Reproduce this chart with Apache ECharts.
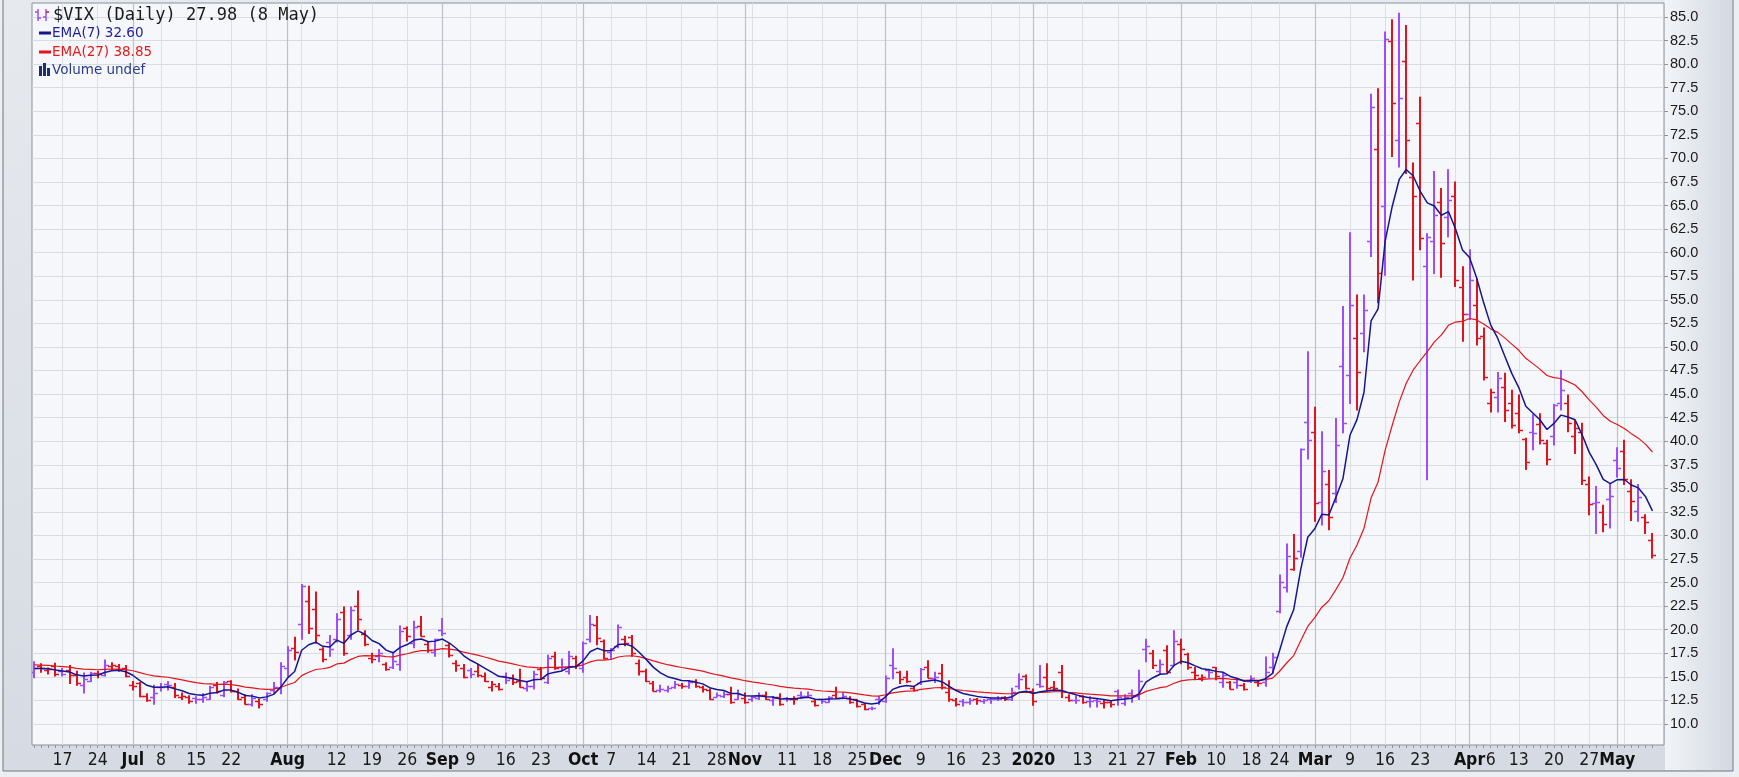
<!DOCTYPE html>
<html><head><meta charset="utf-8">
<script src="https://cdn.jsdelivr.net/npm/echarts@6/dist/echarts.min.js"></script>
<style>html,body{margin:0;padding:0;background:#eceef2;}#chart{width:1739px;height:777px;}</style>
</head><body><div id="chart"></div>
<script>
// ---- trading days ----
const dates = [
'2019-06-11','2019-06-12','2019-06-13','2019-06-14','2019-06-17','2019-06-18','2019-06-19','2019-06-20','2019-06-21','2019-06-24','2019-06-25','2019-06-26','2019-06-27','2019-06-28',
'2019-07-01','2019-07-02','2019-07-03','2019-07-05','2019-07-08','2019-07-09','2019-07-10','2019-07-11','2019-07-12','2019-07-15','2019-07-16','2019-07-17','2019-07-18','2019-07-19','2019-07-22','2019-07-23','2019-07-24','2019-07-25','2019-07-26','2019-07-29','2019-07-30','2019-07-31',
'2019-08-01','2019-08-02','2019-08-05','2019-08-06','2019-08-07','2019-08-08','2019-08-09','2019-08-12','2019-08-13','2019-08-14','2019-08-15','2019-08-16','2019-08-19','2019-08-20','2019-08-21','2019-08-22','2019-08-23','2019-08-26','2019-08-27','2019-08-28','2019-08-29','2019-08-30',
'2019-09-03','2019-09-04','2019-09-05','2019-09-06','2019-09-09','2019-09-10','2019-09-11','2019-09-12','2019-09-13','2019-09-16','2019-09-17','2019-09-18','2019-09-19','2019-09-20','2019-09-23','2019-09-24','2019-09-25','2019-09-26','2019-09-27','2019-09-30',
'2019-10-01','2019-10-02','2019-10-03','2019-10-04','2019-10-07','2019-10-08','2019-10-09','2019-10-10','2019-10-11','2019-10-14','2019-10-15','2019-10-16','2019-10-17','2019-10-18','2019-10-21','2019-10-22','2019-10-23','2019-10-24','2019-10-25','2019-10-28','2019-10-29','2019-10-30','2019-10-31',
'2019-11-01','2019-11-04','2019-11-05','2019-11-06','2019-11-07','2019-11-08','2019-11-11','2019-11-12','2019-11-13','2019-11-14','2019-11-15','2019-11-18','2019-11-19','2019-11-20','2019-11-21','2019-11-22','2019-11-25','2019-11-26','2019-11-27','2019-11-29',
'2019-12-02','2019-12-03','2019-12-04','2019-12-05','2019-12-06','2019-12-09','2019-12-10','2019-12-11','2019-12-12','2019-12-13','2019-12-16','2019-12-17','2019-12-18','2019-12-19','2019-12-20','2019-12-23','2019-12-24','2019-12-26','2019-12-27','2019-12-30','2019-12-31',
'2020-01-02','2020-01-03','2020-01-06','2020-01-07','2020-01-08','2020-01-09','2020-01-10','2020-01-13','2020-01-14','2020-01-15','2020-01-16','2020-01-17','2020-01-21','2020-01-22','2020-01-23','2020-01-24','2020-01-27','2020-01-28','2020-01-29','2020-01-30','2020-01-31',
'2020-02-03','2020-02-04','2020-02-05','2020-02-06','2020-02-07','2020-02-10','2020-02-11','2020-02-12','2020-02-13','2020-02-14','2020-02-18','2020-02-19','2020-02-20','2020-02-21','2020-02-24','2020-02-25','2020-02-26','2020-02-27','2020-02-28',
'2020-03-02','2020-03-03','2020-03-04','2020-03-05','2020-03-06','2020-03-09','2020-03-10','2020-03-11','2020-03-12','2020-03-13','2020-03-16','2020-03-17','2020-03-18','2020-03-19','2020-03-20','2020-03-23','2020-03-24','2020-03-25','2020-03-26','2020-03-27','2020-03-30','2020-03-31',
'2020-04-01','2020-04-02','2020-04-03','2020-04-06','2020-04-07','2020-04-08','2020-04-09','2020-04-13','2020-04-14','2020-04-15','2020-04-16','2020-04-17','2020-04-20','2020-04-21','2020-04-22','2020-04-23','2020-04-24','2020-04-27','2020-04-28','2020-04-29','2020-04-30',
'2020-05-01','2020-05-04','2020-05-05','2020-05-06','2020-05-07','2020-05-08'
];
// ---- $VIX daily OHLC ----
const opens = [
15.50,16.10,15.75,16.10,15.60,15.70,15.20,14.10,14.60,15.40,15.20,16.10,16.10,15.90,
14.10,14.30,13.00,12.90,13.90,14.20,13.90,12.90,12.90,12.80,12.70,12.70,14.10,13.10,14.60,13.50,12.90,12.10,12.40,12.60,13.60,13.80,
15.90,18.10,20.60,23.00,22.20,18.00,18.70,19.00,21.90,19.40,22.50,19.50,17.00,17.20,16.40,16.00,16.40,20.20,18.60,20.40,18.50,17.60,
20.00,18.40,16.50,15.90,15.70,15.60,15.10,13.90,14.00,15.10,14.90,14.60,13.80,14.00,15.80,14.50,17.20,16.00,15.60,17.00,
15.90,19.00,20.50,18.80,17.60,18.30,19.00,19.20,16.50,15.60,14.40,13.60,13.60,13.90,14.10,14.00,14.60,13.90,13.60,12.90,13.00,13.20,12.70,
12.80,12.60,12.80,13.10,12.50,12.90,12.80,12.60,13.10,13.00,12.40,12.60,12.30,13.10,12.80,12.80,12.60,12.10,11.70,12.60,
12.40,16.30,15.50,15.00,13.80,14.30,16.00,14.90,15.40,13.40,12.50,12.40,12.30,12.70,12.40,12.60,12.60,12.90,12.70,14.00,15.10,
13.50,14.20,15.00,13.90,15.50,12.90,12.50,13.00,12.40,12.50,12.20,12.30,13.50,12.20,13.30,13.00,18.00,17.50,15.60,17.90,16.30,
18.50,17.40,15.50,14.90,15.70,16.00,14.50,14.50,14.50,14.10,14.60,14.50,14.50,16.00,22.00,24.50,26.40,28.40,42.00,
41.00,33.50,35.50,34.50,48.00,47.00,51.00,51.50,61.20,71.00,65.00,82.50,72.00,80.30,68.00,73.80,58.60,61.20,65.40,63.80,66.00,56.40,
53.50,54.50,51.20,44.00,44.70,45.70,44.00,43.00,40.20,41.00,41.80,39.80,40.50,44.10,44.00,40.50,41.00,35.50,33.40,32.50,33.90,
38.00,39.00,34.70,32.60,32.00,29.50
];
const highs = [
16.60,16.40,15.95,16.45,15.90,16.20,15.60,15.40,15.50,15.60,16.80,16.50,16.30,16.20,
14.50,14.40,13.20,14.10,14.30,14.50,14.30,13.30,13.00,12.90,13.20,14.00,14.40,14.50,14.60,13.70,13.10,13.10,12.60,13.30,14.40,16.50,
18.20,19.20,24.81,24.60,24.00,18.10,19.40,21.70,22.40,22.40,24.10,19.90,17.50,17.90,16.50,17.60,20.40,20.30,20.90,21.40,18.70,19.00,
21.20,18.50,16.70,16.30,15.90,16.30,15.40,14.50,14.30,15.40,15.20,15.80,14.40,15.60,16.00,17.30,17.60,16.90,17.70,17.20,
18.70,21.50,21.40,18.90,18.00,20.50,19.30,19.40,16.80,15.80,14.50,14.10,14.00,14.50,14.30,14.60,14.70,14.00,13.70,13.30,13.40,13.90,13.60,
13.30,12.90,13.30,13.40,12.90,13.20,12.80,12.90,13.40,13.40,12.50,12.60,12.90,13.90,13.30,12.90,12.60,12.20,11.80,12.90,
15.10,17.99,15.60,15.60,14.00,15.90,16.70,15.50,16.30,14.60,12.70,12.60,12.70,12.70,12.60,12.70,12.90,12.90,13.80,15.30,15.20,
13.70,16.20,16.40,14.50,16.20,13.10,13.00,13.00,12.90,12.70,12.50,12.40,13.60,13.10,13.60,15.70,19.00,17.80,16.80,18.30,19.90,
19.00,17.50,16.00,15.20,15.80,16.00,15.40,14.50,14.80,14.30,15.10,14.60,17.10,17.50,25.80,29.10,30.10,39.16,49.48,
43.60,41.00,36.90,42.40,54.30,62.10,55.50,55.50,76.80,77.40,83.40,84.70,85.40,84.10,69.50,76.50,62.00,68.60,66.80,68.80,67.50,58.50,
60.30,57.20,52.00,45.50,47.30,47.20,45.40,44.90,40.30,42.80,42.90,40.10,43.90,47.50,44.90,42.20,41.90,36.20,35.20,33.20,35.40,
39.30,40.10,35.90,35.40,32.20,30.20
];
const lows = [
14.90,15.50,15.30,15.10,15.10,14.30,14.10,13.30,14.50,14.90,15.10,15.70,15.60,15.00,
13.60,12.90,12.40,12.10,13.50,13.60,12.80,12.60,12.20,12.20,12.30,12.60,13.30,12.90,13.40,12.60,12.10,11.90,11.70,12.40,13.30,13.20,
15.00,16.80,19.00,19.60,18.60,16.60,17.20,18.70,17.30,19.00,20.00,18.30,16.50,16.60,15.70,15.90,15.70,18.80,18.10,19.30,17.60,17.20,
19.40,17.10,15.60,14.90,14.90,15.00,14.50,13.50,13.60,14.30,14.20,13.90,13.50,13.70,14.70,14.30,15.80,15.70,15.30,15.90,
15.50,18.70,18.40,16.90,16.90,18.10,18.30,17.20,15.20,14.50,13.50,13.40,13.40,13.80,13.80,13.80,13.90,13.40,12.60,12.90,12.80,12.20,12.60,
12.20,12.40,12.60,12.60,12.00,12.00,12.40,12.10,12.70,12.80,11.90,12.20,12.30,12.70,12.70,12.20,11.80,11.50,11.50,12.10,
12.30,14.80,14.30,14.40,13.50,14.20,14.90,14.40,13.70,12.40,11.90,11.90,12.10,12.10,12.20,12.20,12.50,12.50,12.50,13.70,13.70,
12.00,13.90,13.50,13.50,12.80,12.40,12.20,12.20,11.80,11.80,11.70,11.80,12.00,12.00,12.30,12.60,16.60,15.90,15.30,15.50,16.20,
16.40,15.80,14.70,14.60,14.90,14.70,13.90,13.70,13.80,13.60,14.40,14.00,14.00,15.40,21.80,24.00,26.30,27.70,38.10,
31.50,31.10,30.60,33.50,40.90,44.00,43.30,49.50,59.60,54.70,57.60,70.20,69.10,68.40,57.10,60.30,35.90,57.80,57.40,61.70,56.40,50.60,
52.90,50.20,46.50,43.10,43.10,42.10,41.40,40.90,37.00,39.10,39.70,37.50,39.60,43.30,41.00,38.70,35.40,32.20,30.20,30.40,30.80,
36.20,35.40,31.60,31.50,30.20,27.60
];
const closes = [
15.99,15.91,15.82,15.28,15.35,15.15,14.33,14.75,15.40,15.26,16.28,16.21,15.82,15.08,
14.06,12.93,12.57,13.28,13.96,14.09,13.03,12.93,12.39,12.68,12.86,13.97,13.53,14.45,13.53,12.61,12.07,12.74,12.16,13.24,13.94,16.12,
17.87,17.61,24.59,20.17,19.49,16.91,17.97,21.09,17.52,22.10,21.18,18.47,16.88,17.50,15.80,16.68,19.87,19.32,20.31,19.35,17.88,18.98,
19.66,17.33,16.27,15.00,15.27,15.20,14.61,14.22,13.74,14.67,14.44,13.95,14.05,15.32,14.91,17.05,15.96,16.07,17.22,16.24,
18.56,20.56,19.12,17.04,17.86,20.28,18.64,17.57,15.58,14.57,13.54,13.68,13.79,14.25,14.00,14.46,14.01,13.71,12.65,13.11,13.20,12.33,13.22,
12.30,12.83,13.10,12.62,12.73,12.07,12.69,12.68,13.00,13.05,12.05,12.46,12.86,12.78,12.98,12.34,11.87,11.54,11.75,12.62,
14.91,15.96,14.80,14.52,13.62,15.86,14.91,14.99,13.94,12.63,12.14,12.29,12.58,12.50,12.51,12.61,12.67,12.65,13.43,14.82,13.78,
12.47,14.02,13.85,13.79,13.45,12.54,12.56,12.32,12.39,12.42,12.32,12.10,12.85,12.91,12.98,14.56,18.23,16.28,16.39,15.49,18.84,
17.97,16.05,15.15,14.96,15.47,15.04,15.18,13.74,14.15,13.68,14.83,14.38,15.56,17.08,25.03,27.85,27.56,39.16,40.11,
33.42,36.82,31.99,39.62,41.94,54.46,47.30,53.90,75.47,57.83,82.69,75.91,76.45,72.00,66.04,61.59,61.67,63.95,61.00,65.54,57.08,53.54,
57.06,50.91,46.80,45.24,46.70,43.35,41.67,41.17,37.76,40.84,40.11,38.15,43.83,45.41,41.98,41.38,35.93,33.29,33.57,31.23,34.15,
37.19,35.97,33.61,34.12,31.44,27.98
];
const closeBeforeFirst = 15.94;
// EMA starting levels (read at the left edge of the chart)
const ema7Start = 15.85;
const ema27Start = 16.30;

// ---- axis ticks ----
const weekStarts = ['2019-06-17','2019-06-24','2019-07-08','2019-07-15','2019-07-22','2019-07-29','2019-08-05','2019-08-12','2019-08-19','2019-08-26','2019-09-09','2019-09-16','2019-09-23','2019-09-30','2019-10-07','2019-10-14','2019-10-21','2019-10-28','2019-11-04','2019-11-11','2019-11-18','2019-11-25','2019-12-09','2019-12-16','2019-12-23','2019-12-30','2020-01-06','2020-01-13','2020-01-21','2020-01-27','2020-02-10','2020-02-18','2020-02-24','2020-03-09','2020-03-16','2020-03-23','2020-03-30','2020-04-06','2020-04-13','2020-04-20','2020-04-27','2020-05-04'];
const monthStarts = ['2019-07-01','2019-08-01','2019-09-03','2019-10-01','2019-11-01','2019-12-02','2020-01-02','2020-02-03','2020-03-02','2020-04-01','2020-05-01'];
const tickDates = ['2019-06-17','2019-06-24','2019-07-01','2019-07-08','2019-07-15','2019-07-22','2019-08-01','2019-08-12','2019-08-19','2019-08-26','2019-09-03','2019-09-09','2019-09-16','2019-09-23','2019-10-01','2019-10-07','2019-10-14','2019-10-21','2019-10-28','2019-11-01','2019-11-11','2019-11-18','2019-11-25','2019-12-02','2019-12-09','2019-12-16','2019-12-23','2020-01-02','2020-01-13','2020-01-21','2020-01-27','2020-02-03','2020-02-10','2020-02-18','2020-02-24','2020-03-02','2020-03-09','2020-03-16','2020-03-23','2020-04-01','2020-04-06','2020-04-13','2020-04-20','2020-04-27','2020-05-01'];
const tickTexts = ['17','24','Jul','8','15','22','Aug','12','19','26','Sep','9','16','23','Oct','7','14','21','28','Nov','11','18','25','Dec','9','16','23','2020','13','21','27','Feb','10','18','24','Mar','9','16','23','Apr','6','13','20','27','May'];
const yTickValues = [10.0,12.5,15.0,17.5,20.0,22.5,25.0,27.5,30.0,32.5,35.0,37.5,40.0,42.5,45.0,47.5,50.0,52.5,55.0,57.5,60.0,62.5,65.0,67.5,70.0,72.5,75.0,77.5,80.0,82.5,85.0];

const UP = '#9b4dff', DOWN = '#e0141c', EMA7C = '#16168f', EMA27C = '#e3151b';
const X_MIN = -0.335, X_MAX = 231.64, Y_MIN = 7.772, Y_MAX = 86.485;

function ema(vals, n, start){ const k = 2/(n+1); let e = start; return vals.map(v => (e = v*k + e*(1-k))); }
const ema7 = ema(closes, 7, ema7Start);
const ema27 = ema(closes, 27, ema27Start);

const idxOf = d => dates.indexOf(d);
const allIdx = dates.map((d,i)=>i);
const weekIdx = weekStarts.map(idxOf);
const monthIdx = monthStarts.map(idxOf);
const labelIdx = tickDates.map(idxOf);
const labelMap = {}; labelIdx.forEach((ix,k)=>{ labelMap[ix] = tickTexts[k]; });
const monthSet = new Set(monthIdx);

const ohlc = dates.map((d,i)=>[i, opens[i], highs[i], lows[i], closes[i], closes[i] >= (i ? closes[i-1] : closeBeforeFirst) ? 1 : 0]);

function renderOHLC(params, api){
  const x = api.value(0);
  const pH = api.coord([x, api.value(2)]), pL = api.coord([x, api.value(3)]);
  const pO = api.coord([x, api.value(1)]), pC = api.coord([x, api.value(4)]);
  const color = api.value(5) ? UP : DOWN;
  const xc = Math.round(pH[0]);
  return {type:'group', children:[
    {type:'line', shape:{x1:xc, y1:pH[1]-0.5, x2:xc, y2:pL[1]+0.5}, style:{stroke:color, lineWidth:2}},
    {type:'line', shape:{x1:xc-4, y1:Math.round(pO[1])+0.5, x2:xc, y2:Math.round(pO[1])+0.5}, style:{stroke:color, lineWidth:1.5}},
    {type:'line', shape:{x1:xc, y1:Math.round(pC[1])+0.5, x2:xc+4, y2:Math.round(pC[1])+0.5}, style:{stroke:color, lineWidth:1.5}}
  ]};
}

const chart = echarts.init(document.getElementById('chart'), null, {renderer:'canvas'});
const xBase = {type:'value', min:X_MIN, max:X_MAX, position:'bottom', gridIndex:0,
  axisLine:{show:false, onZero:false}, axisLabel:{show:false}};
const legendFont = '13.5px "DejaVu Sans", sans-serif';
const xFont = '"Liberation Sans Narrow","DejaVu Sans Condensed",sans-serif';
chart.setOption({
  animation:false,
  backgroundColor:'#eceef2',
  graphic:[
    {type:'rect', z:-10, silent:true, shape:{x:3, y:-3, width:1730, height:774},
     style:{fill:new echarts.graphic.LinearGradient(0,0,0,1,[{offset:0,color:'#e6e9ee'},{offset:1,color:'#d6dbe3'}]), stroke:'#6f757e', lineWidth:1}},
    {type:'rect', z:-9, silent:true, shape:{x:1665, y:0, width:67, height:770},
     style:{fill:new echarts.graphic.LinearGradient(0,0,1,0,[{offset:0,color:'#f2f4f7'},{offset:1,color:'#d3d9e2'}])}},
    // legend block (absolute pixel positions)
    {type:'line', z:20, silent:true, shape:{x1:38, y1:9, x2:38, y2:21}, style:{stroke:UP, lineWidth:1.5}},
    {type:'line', z:20, silent:true, shape:{x1:35, y1:12, x2:38, y2:12}, style:{stroke:UP, lineWidth:1.5}},
    {type:'line', z:20, silent:true, shape:{x1:38, y1:18, x2:41, y2:18}, style:{stroke:UP, lineWidth:1.5}},
    {type:'line', z:20, silent:true, shape:{x1:46, y1:9, x2:46, y2:21}, style:{stroke:UP, lineWidth:1.5}},
    {type:'line', z:20, silent:true, shape:{x1:43, y1:17, x2:46, y2:17}, style:{stroke:UP, lineWidth:1.5}},
    {type:'line', z:20, silent:true, shape:{x1:46, y1:12, x2:49, y2:12}, style:{stroke:DOWN, lineWidth:1.5}},
    {type:'text', z:20, silent:true, x:53, y:16, style:{text:'$VIX (Daily) 27.98 (8 May)', font:'17px "DejaVu Sans Mono", monospace', fill:'#1c1c1c', verticalAlign:'middle'}},
    {type:'line', z:20, silent:true, shape:{x1:39, y1:33, x2:51, y2:33}, style:{stroke:EMA7C, lineWidth:3}},
    {type:'text', z:20, silent:true, x:52, y:33, style:{text:'EMA(7) 32.60', font:legendFont, fill:'#1e1e9a', verticalAlign:'middle'}},
    {type:'line', z:20, silent:true, shape:{x1:39, y1:52, x2:51, y2:52}, style:{stroke:EMA27C, lineWidth:3}},
    {type:'text', z:20, silent:true, x:52, y:52, style:{text:'EMA(27) 38.85', font:legendFont, fill:'#e31a1a', verticalAlign:'middle'}},
    {type:'rect', z:20, silent:true, shape:{x:39, y:66, width:3, height:10}, style:{fill:'#1f2f6e'}},
    {type:'rect', z:20, silent:true, shape:{x:43, y:63, width:3, height:13}, style:{fill:'#1f2f6e'}},
    {type:'rect', z:20, silent:true, shape:{x:47, y:68, width:3, height:8}, style:{fill:'#1f2f6e'}},
    {type:'text', z:20, silent:true, x:52, y:70, style:{text:'Volume undef', font:legendFont, fill:'#2a3d8f', verticalAlign:'middle'}}
  ],
  grid:{left:32, top:3, width:1632, height:742, show:true, backgroundColor:'#f5f7fa', borderColor:'#8b9099', borderWidth:1},
  xAxis:[
    Object.assign({}, xBase, {axisTick:{show:false, customValues:weekIdx}, splitLine:{show:true, lineStyle:{color:'#dcdfe5', width:1}}}),
    Object.assign({}, xBase, {axisTick:{show:false, customValues:monthIdx}, splitLine:{show:true, lineStyle:{color:'#bcc1ca', width:1.2}}}),
    Object.assign({}, xBase, {
      axisTick:{show:true, customValues:allIdx, length:3, lineStyle:{color:'#8e939c', width:1}},
      splitLine:{show:false},
      axisLabel:{show:true, customValues:labelIdx, margin:6, color:'#1a1a1a', showMinLabel:true, showMaxLabel:true, hideOverlap:false,
        fontFamily:xFont, fontSize:17.5,
        formatter:(v)=>{ const ix = Math.round(v); const t = labelMap[ix]; if (t === undefined) return ''; return monthSet.has(ix) ? '{m|'+t+'}' : t; },
        rich:{m:{fontWeight:'bold', fontSize:17.5, fontFamily:xFont, color:'#111'}}}
    })
  ],
  yAxis:{type:'value', position:'right', min:Y_MIN, max:Y_MAX,
    axisLine:{show:false, onZero:false},
    axisTick:{show:true, customValues:yTickValues, length:4, lineStyle:{color:'#8e939c'}},
    splitLine:{show:true, lineStyle:{color:'#d7dbe2', width:1}},
    axisLabel:{customValues:yTickValues, showMinLabel:true, showMaxLabel:true, formatter:(v)=>v.toFixed(1), margin:6, color:'#1a1a1a', fontFamily:'"Liberation Sans",Arial,sans-serif', fontSize:14.5}},
  series:[
    {type:'custom', name:'$VIX', xAxisIndex:0, yAxisIndex:0, renderItem:renderOHLC, data:ohlc, encode:{x:0, y:[1,2,3,4]}, clip:true, z:2},
    {type:'line', name:'EMA(27)', xAxisIndex:0, data:ema27.map((v,i)=>[i,v]), showSymbol:false, lineStyle:{color:EMA27C, width:1.2}, z:3},
    {type:'line', name:'EMA(7)', xAxisIndex:0, data:ema7.map((v,i)=>[i,v]), showSymbol:false, lineStyle:{color:EMA7C, width:1.5}, z:4}
  ]
});
</script></body></html>
